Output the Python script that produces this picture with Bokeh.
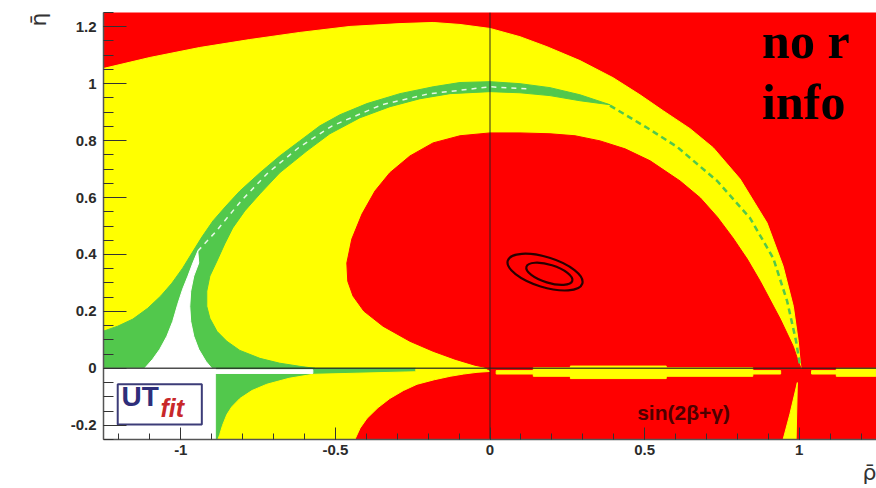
import numpy as np
from bokeh.plotting import figure
from bokeh.models import FixedTicker, Label, Title
from bokeh.embed import file_html
from bokeh.resources import INLINE

# ---------------- data ----------------
x_ticks = [-1, -0.5, 0, 0.5, 1]
x_tick_labels = ["-1", "-0.5", "0", "0.5", "1"]
y_ticks = [-0.2, 0, 0.2, 0.4, 0.6, 0.8, 1, 1.2]
y_tick_labels = ["-0.2", "0", "0.2", "0.4", "0.6", "0.8", "1", "1.2"]

# outer boundary of the yellow region (upper half)
yellow_x = [-1.25, -1.252, -1.100, -0.939, -0.777, -0.615, -0.453, -0.291, -0.184, -0.097,
            0.0, 0.097, 0.184, 0.291, 0.398, 0.485, 0.560, 0.647, 0.722, 0.809,
            0.896, 0.948, 0.981, 0.997, 1.003, 1.006]
yellow_y = [0.0, 1.053, 1.092, 1.127, 1.155, 1.180, 1.201, 1.211, 1.215, 1.208,
            1.194, 1.165, 1.130, 1.081, 1.021, 0.961, 0.905, 0.842, 0.775, 0.665,
            0.511, 0.359, 0.218, 0.095, 0.025, 0.0]

# green band (left part of the circle, with its two horns)
green_x = [0.388, 0.291, 0.194, 0.097, 0.0, -0.097, -0.184, -0.291, -0.398, -0.485,
           -0.550, -0.615, -0.680, -0.744, -0.809, -0.854, -0.896, -0.932, -0.964, -0.994,
           -1.029, -1.065, -1.107, -1.155, -1.204, -1.252, -1.252, -0.566,
           -0.615, -0.680, -0.744, -0.809, -0.851, -0.883, -0.906, -0.916, -0.916, -0.906,
           -0.883, -0.858, -0.832, -0.793, -0.744, -0.680, -0.592, -0.518, -0.421, -0.324,
           -0.227, -0.129, 0.0, 0.097, 0.194, 0.291]
green_y = [0.926, 0.961, 0.986, 1.0, 1.007, 1.004, 0.989, 0.965, 0.930, 0.891,
           0.852, 0.799, 0.746, 0.687, 0.623, 0.570, 0.518, 0.461, 0.405, 0.352,
           0.299, 0.254, 0.211, 0.173, 0.148, 0.130, 0.0, 0.0,
           0.007, 0.018, 0.035, 0.063, 0.095, 0.130, 0.176, 0.218, 0.271, 0.324,
           0.377, 0.437, 0.493, 0.553, 0.613, 0.687, 0.764, 0.824, 0.880, 0.919,
           0.947, 0.965, 0.972, 0.968, 0.958, 0.940]

# white cusp between the horns
cusp_x = [-1.117, -1.091, -1.068, -1.045, -1.026, -1.010, -0.994, -0.977, -0.961, -0.945,
          -0.942, -0.958, -0.968, -0.971, -0.968, -0.958, -0.942, -0.919, -0.900]
cusp_y = [0.0, 0.032, 0.067, 0.113, 0.165, 0.225, 0.278, 0.324, 0.370, 0.412,
          0.370, 0.324, 0.271, 0.218, 0.165, 0.113, 0.067, 0.025, 0.0]

# inner red region
red_x = [1.006, 0.997, 0.981, 0.939, 0.874, 0.832, 0.786, 0.735, 0.680, 0.615, 0.518,
         0.437, 0.356, 0.275, 0.194, 0.097, 0.0, -0.097, -0.184, -0.259, -0.324,
         -0.372, -0.414, -0.447, -0.463, -0.460, -0.443, -0.408, -0.346, -0.259, -0.184,
         -0.113, -0.049, 0.0]
red_y = [0.0, 0.025, 0.077, 0.173, 0.306, 0.384, 0.458, 0.532, 0.599, 0.658, 0.729,
         0.771, 0.799, 0.817, 0.824, 0.827, 0.827, 0.817, 0.792, 0.746, 0.687,
         0.623, 0.542, 0.454, 0.370, 0.306, 0.254, 0.201, 0.148, 0.095, 0.060,
         0.032, 0.011, 0.0]

# thin green line along the circle (right side)
gline_x = [0.388, 0.508, 0.605, 0.735, 0.841, 0.916, 0.961, 0.990, 1.003]
gline_y = [0.923, 0.845, 0.778, 0.658, 0.528, 0.387, 0.236, 0.095, 0.007]

# white dashes along the middle of the green band
wline_x = [-0.945, -0.887, -0.805, -0.718, -0.618, -0.51, -0.35, -0.2, 0.0, 0.12]
wline_y = [0.412, 0.48, 0.588, 0.687, 0.776, 0.852, 0.926, 0.964, 0.989, 0.982]

# lower half (eta < 0)
lwhite_x = [-1.25, -0.885, -0.885, -1.25]
lwhite_y = [0.0, 0.0, -0.25, -0.25]
lgreen_x = [-0.885, -0.24, -0.24, -0.573, -0.65, -0.722, -0.77, -0.809, -0.835, -0.851,
            -0.865, -0.874, -0.88, -0.885]
lgreen_y = [0.0, 0.0, -0.012, -0.021, -0.035, -0.056, -0.078, -0.106, -0.135, -0.162,
            -0.2, -0.232, -0.25, -0.25]
lyellow_x = [-0.573, -0.24, -0.24, -0.02, 0.0, -0.042, -0.085, -0.129, -0.18, -0.236,
             -0.28, -0.324, -0.362, -0.398, -0.42, -0.437, -0.88, -0.874, -0.865, -0.851,
             -0.835, -0.809, -0.77, -0.722, -0.65]
lyellow_y = [-0.021, -0.012, 0.0, 0.0, -0.011, -0.014, -0.02, -0.028, -0.04, -0.056,
             -0.078, -0.106, -0.138, -0.176, -0.21, -0.25, -0.25, -0.232, -0.2, -0.162,
             -0.135, -0.106, -0.078, -0.056, -0.035]
sliver_x = [0.994, 0.97, 0.948, 0.99]
sliver_y = [-0.05, -0.16, -0.25, -0.25]

# thin strips along eta = 0
strip_left = [-1.25, 0.02, 0.14, 0.26, 1.04, 1.12]
strip_right = [-0.573, 0.94, 0.85, 0.57, 1.25, 1.25]
strip_bottom = [-0.018, -0.02, -0.028, -0.036, -0.02, -0.028]
strip_top = [-0.005, -0.008, 0.002, 0.008, -0.008, 0.0]
strip_color = ["white", "#ffff00", "#ffff00", "#ffff00", "#ffff00", "#ffff00"]

# likelihood contours
ell_x = [0.178, 0.192]
ell_y = [0.338, 0.332]
ell_w = [78, 48]
ell_h = [30, 18]

RED, YELLOW, GREEN = "#ff0000", "#ffff00", "#52c84c"

p = figure(width=876, height=488, x_range=(-1.25, 1.25), y_range=(-0.25, 1.25),
           output_backend="svg", toolbar_location=None,
           min_border_left=103, min_border_right=0, min_border_top=12,
           min_border_bottom=49)
p.background_fill_color = RED
p.border_fill_color = "white"
p.outline_line_color = None
p.grid.visible = False

p.patch(yellow_x, yellow_y, color=YELLOW)
p.patch(green_x, green_y, color=GREEN)
p.patch(cusp_x, cusp_y, color="white")
p.patch(red_x, red_y, color=RED)
p.line(gline_x, gline_y, line_color=GREEN, line_width=2.5, line_dash="6 4")
p.line(wline_x, wline_y, line_color="white", line_width=1.5, line_dash="5 5", line_alpha=0.85)

p.patch(lwhite_x, lwhite_y, color="white")
p.patch(lgreen_x, lgreen_y, color=GREEN)
p.patch(lyellow_x, lyellow_y, color=YELLOW)
p.patch(sliver_x, sliver_y, color=YELLOW)
p.quad(left=strip_left, right=strip_right, bottom=strip_bottom, top=strip_top,
       color=strip_color)

p.line([-1.25, 1.25], [0, 0], line_color="#222222", line_width=1.5, line_alpha=0.8)
p.line([0, 0], [-0.25, 1.25], line_color="#222222", line_width=1.2, line_alpha=0.8)

p.ellipse(x=ell_x, y=ell_y, width=ell_w, height=ell_h, angle=-0.3,
          width_units="screen", height_units="screen",
          fill_alpha=0, line_color="#2a0000", line_width=2.2)

# UTfit logo
p.quad(left=[-1.204], right=[-0.932], bottom=[-0.197], top=[-0.056],
       fill_color="white", line_color="#3c3c78", line_width=2)
p.add_layout(Label(x=-1.192, y=-0.155, text="UT", text_font="Liberation Sans",
                   text_font_style="bold", text_font_size="28px", text_color="#2e2e7a"))
p.add_layout(Label(x=-1.066, y=-0.187, text="fit", text_font="Liberation Sans",
                   text_font_style="bold italic", text_font_size="25px", text_color="#c8282a"))

p.add_layout(Label(x=0.88, y=1.050, text="no r", text_font="Liberation Serif",
                   text_font_style="bold", text_font_size="50px", text_color="black"))
p.add_layout(Label(x=0.88, y=0.838, text="info", text_font="Liberation Serif",
                   text_font_style="bold", text_font_size="50px", text_color="black"))
p.add_layout(Label(x=0.476, y=-0.197, text="sin(2β+γ)", text_font="Liberation Sans",
                   text_font_style="bold", text_font_size="21px", text_color="#4d0000"))

# axis titles
p.add_layout(Title(text="ρ̄", align="right", text_font="DejaVu Sans",
                   text_font_size="22px", text_font_style="normal",
                   text_color="#333333", standoff=0), "below")
p.add_layout(Title(text="η̄", align="right", text_font="DejaVu Sans",
                   text_font_size="22px", text_font_style="normal",
                   text_color="#333333", standoff=34), "left")

# axes
xa, ya = p.xaxis[0], p.yaxis[0]
xa.ticker = FixedTicker(ticks=x_ticks, minor_ticks=list(np.round(np.arange(-1.2, 1.25, 0.1), 2)))
ya.ticker = FixedTicker(ticks=y_ticks, minor_ticks=list(np.round(np.arange(-0.25, 1.26, 0.05), 2)))
xa.major_label_overrides = dict(zip(x_ticks, x_tick_labels))
ya.major_label_overrides = dict(zip(y_ticks, y_tick_labels))
for ax in (xa, ya):
    ax.axis_line_color = "#555555"
    ax.axis_line_width = 1.5
    ax.major_tick_line_color = "#333333"
    ax.minor_tick_line_color = "#333333"
    ax.major_tick_out = 0
    ax.minor_tick_out = 0
    ax.major_label_text_font = "Liberation Sans"
    ax.major_label_text_font_style = "bold"
    ax.major_label_text_font_size = "15px"
    ax.major_label_text_color = "#2b2b2b"
xa.major_tick_in = 12
xa.minor_tick_in = 6
ya.major_tick_in = 23
ya.minor_tick_in = 10
xa.major_label_standoff = 5
ya.major_label_standoff = 7

open("out.html", "w").write(file_html(p, INLINE))
